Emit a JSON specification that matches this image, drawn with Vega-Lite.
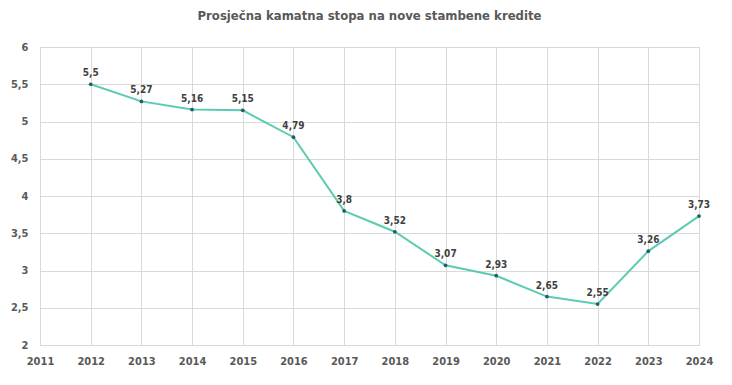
{
  "$schema": "https://vega.github.io/schema/vega-lite/v6.json",
  "width": 659,
  "height": 298,
  "autosize": {"type": "none"},
  "padding": {"left": 40, "top": 47, "right": 33, "bottom": 40},
  "background": "white",
  "title": {
    "text": "Prosječna kamatna stopa na nove stambene kredite",
    "fontSize": 13,
    "font": "DejaVu Sans Condensed",
    "fontWeight": "bold",
    "color": "#595959",
    "offset": 18,
    "anchor": "middle"
  },
  "data": {
    "values": [
      {"year": 2012, "rate": 5.5},
      {"year": 2013, "rate": 5.27},
      {"year": 2014, "rate": 5.16},
      {"year": 2015, "rate": 5.15},
      {"year": 2016, "rate": 4.79},
      {"year": 2017, "rate": 3.8},
      {"year": 2018, "rate": 3.52},
      {"year": 2019, "rate": 3.07},
      {"year": 2020, "rate": 2.93},
      {"year": 2021, "rate": 2.65},
      {"year": 2022, "rate": 2.55},
      {"year": 2023, "rate": 3.26},
      {"year": 2024, "rate": 3.73}
    ]
  },
  "encoding": {
    "x": {
      "field": "year",
      "type": "quantitative",
      "scale": {"domain": [2011, 2024], "nice": false, "zero": false},
      "axis": {
        "title": null,
        "values": [2011, 2012, 2013, 2014, 2015, 2016, 2017, 2018, 2019, 2020, 2021, 2022, 2023, 2024],
        "labelExpr": "'' + datum.value",
        "labelFlush": false,
        "labelOverlap": false,
        "labelFont": "DejaVu Sans Condensed",
        "labelFontWeight": "bold",
        "labelFontSize": 11,
        "labelColor": "#595959",
        "labelPadding": 10,
        "ticks": false,
        "domainColor": "#d9d9d9",
        "gridColor": "#d9d9d9"
      }
    },
    "y": {
      "field": "rate",
      "type": "quantitative",
      "scale": {"domain": [2, 6], "nice": false, "zero": false},
      "axis": {
        "title": null,
        "values": [2, 2.5, 3, 3.5, 4, 4.5, 5, 5.5, 6],
        "labelExpr": "replace('' + datum.value, '.', ',')",
        "labelFlush": false,
        "labelFont": "DejaVu Sans Condensed",
        "labelFontWeight": "bold",
        "labelFontSize": 11,
        "labelColor": "#595959",
        "labelPadding": 12,
        "ticks": false,
        "domainColor": "#d9d9d9",
        "gridColor": "#d9d9d9"
      }
    }
  },
  "layer": [
    {"mark": {"type": "line", "color": "#5ccbb3", "strokeWidth": 2}},
    {"mark": {"type": "point", "filled": true, "color": "#1f5f66", "size": 14, "opacity": 1}},
    {
      "transform": [{"calculate": "replace('' + datum.rate, '.', ',')", "as": "label"}],
      "mark": {"type": "text", "dy": -11, "font": "DejaVu Sans Condensed", "fontWeight": "bold", "fontSize": 10, "color": "#404040"},
      "encoding": {"text": {"field": "label", "type": "nominal"}}
    }
  ],
  "config": {
    "view": {"stroke": "#d9d9d9"}
  }
}
